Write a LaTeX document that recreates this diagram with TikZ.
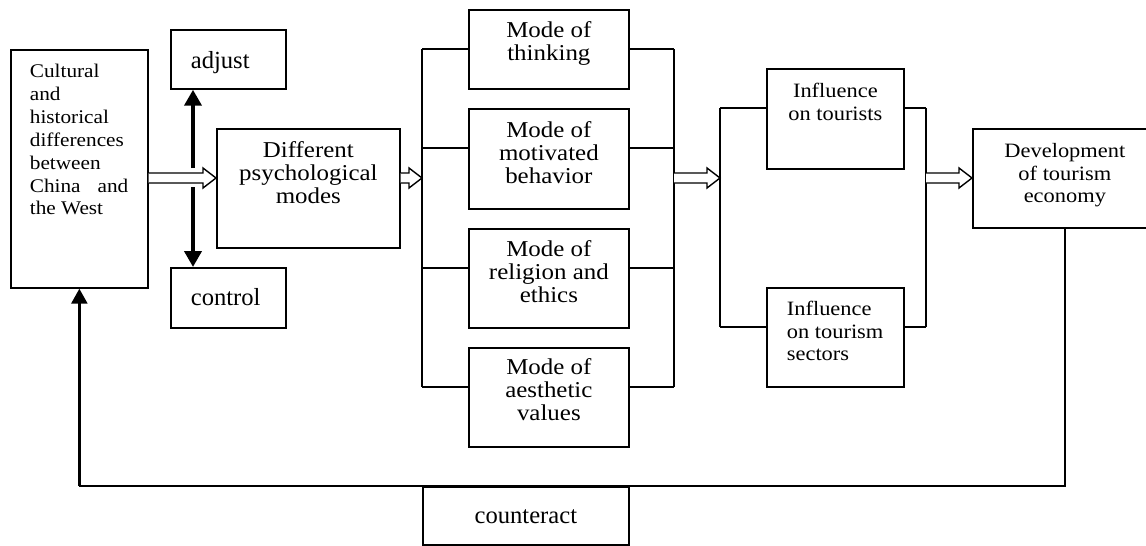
\documentclass[tikz,border=0pt]{standalone}
\usepackage{fontspec}
\setmainfont{Liberation Serif}[FakeStretch=1.1]
\newfontfamily\wordfont{Liberation Serif}
\usetikzlibrary{arrows.meta,calc}

\newcommand{\boxtext}[4]{\parbox[c][#2][t]{#1}{\centering\rule{0pt}{#3}#4}}
\newcommand{\fatarrow}[2]{%
  \draw[fat] ($(#1)+(0,5)$) -- ($(#2)+(-13,5)$) -- ($(#2)+(-13,10)$) -- (#2)
    -- ($(#2)+(-13,-10)$) -- ($(#2)+(-13,-5)$) -- ($(#1)+(0,-5)$);}

\tikzset{
  box/.style={draw, line width=1pt, inner sep=0pt, anchor=north west},
  bigtxt/.style={font=\fontsize{12.9}{12.9}\selectfont},
  smalltxt/.style={font=\fontsize{11.6}{12.8}\selectfont},
  wordtxt/.style={font=\wordfont\fontsize{14}{14}\selectfont},
  link/.style={line width=1pt},
  fat/.style={line width=0.8pt, fill=white},
  ctrl/.style={line width=2.2pt, -{Triangle[length=0.32cm,width=0.34cm]}},
  back/.style={line width=1.5pt, -{Triangle[length=0.3cm,width=0.32cm]}}
}

\begin{document}
\begin{tikzpicture}[x=0.02cm, y=-0.02cm]
  \useasboundingbox (0,0) rectangle (1146,545);
  \node[box, font=\fontsize{11}{13}\selectfont] (cult) at (10,49)
    {\boxtext{2.74cm}{4.76cm}{0.56cm}{\raggedright\leftskip=0.38cm Cultural\\and\\historical\\differences\\between\\China\hspace{0.34cm}and\\the West}};
  \node[box, wordtxt] (adjust) at (170,29)
    {\boxtext{2.30cm}{1.18cm}{0.78cm}{\raggedright\leftskip=0.4cm adjust}};
  \node[box, wordtxt] (control) at (170,267)
    {\boxtext{2.30cm}{1.20cm}{0.76cm}{\raggedright\leftskip=0.4cm control}};
  \node[box, bigtxt] (psych) at (216,128)
    {\boxtext{3.66cm}{2.38cm}{0.58cm}{Different\\psychological\\modes}};
  \node[box, bigtxt] (mthink) at (468,9)
    {\boxtext{3.2cm}{1.58cm}{0.56cm}{Mode of\\thinking}};
  \node[box, bigtxt] (mmot) at (468,108)
    {\boxtext{3.2cm}{2.0cm}{0.58cm}{Mode of\\motivated\\behavior}};
  \node[box, bigtxt] (mrel) at (468,228)
    {\boxtext{3.2cm}{1.98cm}{0.56cm}{Mode of\\religion and\\ethics}};
  \node[box, bigtxt] (maes) at (468,347)
    {\boxtext{3.2cm}{1.98cm}{0.54cm}{Mode of\\aesthetic\\values}};
  \node[box, smalltxt] (itour) at (766,68)
    {\boxtext{2.74cm}{2.0cm}{0.58cm}{Influence\\on tourists}};
  \node[box, smalltxt] (isec) at (766,287)
    {\boxtext{2.74cm}{1.98cm}{0.56cm}{\raggedright\leftskip=0.4cm Influence\\on tourism\\sectors}};
  \node[box, smalltxt] (dev) at (972,128)
    {\boxtext{3.68cm}{1.98cm}{0.58cm}{Development\\of tourism\\economy}};
  \node[box, wordtxt] (count) at (422,486)
    {\boxtext{4.12cm}{1.16cm}{0.74cm}{counteract}};

  \coordinate (axis) at (0,178);
  \coordinate (hub) at (193,178);
  \coordinate (lbus) at (422,0);
  \coordinate (rbus) at (674,0);
  \coordinate (lbus2) at (720,0);
  \coordinate (rbus2) at (926,0);

  \foreach \m in {mthink,mmot,mrel,maes} {
    \coordinate (\m-w) at ([yshift=-0.8cm]\m.north west);
    \coordinate (\m-e) at ([yshift=-0.8cm]\m.north east);
    \draw[link] (lbus |- \m-w) -- (\m-w);
    \draw[link] (\m-e) -- (rbus |- \m-e);
  }
  \draw[link] (lbus |- mthink-w) -- (lbus |- maes-w);
  \draw[link] (rbus |- mthink-e) -- (rbus |- maes-e);

  \foreach \m in {itour,isec} {
    \coordinate (\m-w) at ([yshift=-0.8cm]\m.north west);
    \coordinate (\m-e) at ([yshift=-0.8cm]\m.north east);
    \draw[link] (lbus2 |- \m-w) -- (\m-w);
    \draw[link] (\m-e) -- (rbus2 |- \m-e);
  }
  \draw[link] (lbus2 |- itour-w) -- (lbus2 |- isec-w);
  \draw[link] (rbus2 |- itour-e) -- (rbus2 |- isec-e);

  \fatarrow{cult.east |- axis}{psych.west |- axis}
  \fatarrow{psych.east |- axis}{lbus |- axis}
  \fatarrow{rbus |- axis}{lbus2 |- axis}
  \fatarrow{rbus2 |- axis}{dev.west |- axis}

  \draw[ctrl] ([yshift=0.2cm]hub) -- (hub |- adjust.south);
  \draw[ctrl] ([yshift=-0.18cm]hub) -- (hub |- control.north);

  \draw[link] (dev.south) |- (cult.south |- count.north);
  \draw[back] (cult.south |- count.north) -- (cult.south);
\end{tikzpicture}
\end{document}
